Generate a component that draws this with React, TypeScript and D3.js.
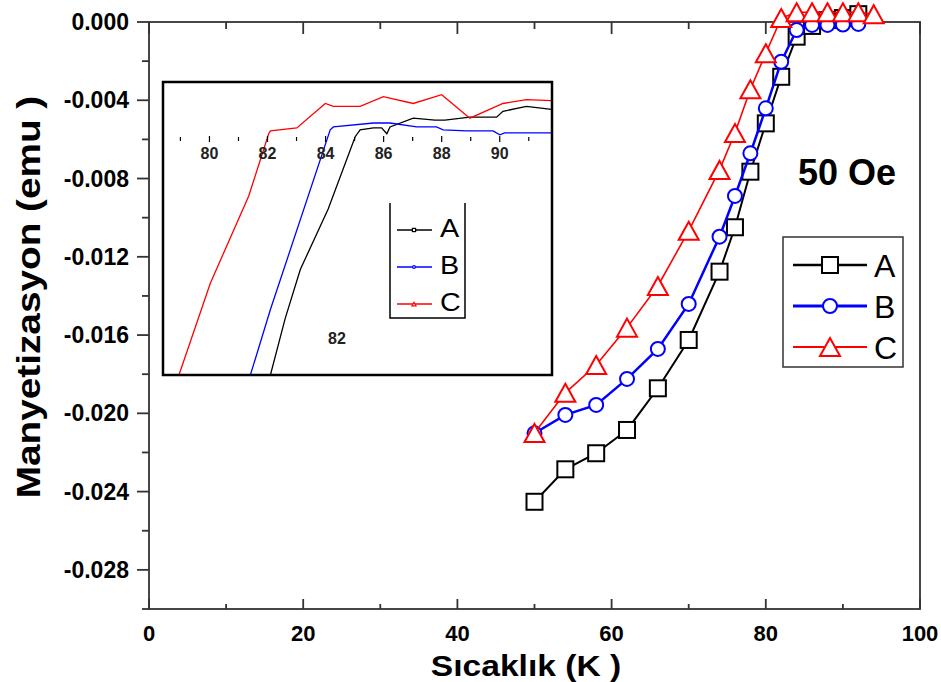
import React from 'react';
import * as d3 from 'd3';

// main chart data (T in K, M in emu)
const tempA = [50, 54, 58, 62, 66, 70, 74, 76, 78, 80, 82, 84, 86, 88, 90, 92];
const magA = [-0.02452, -0.02286, -0.02204, -0.02085, -0.01872, -0.01625, -0.01276, -0.01049, -0.00765, -0.00518, -0.0028, -0.00075, -0.0002, 0.0001, 0.0002, 0.0004];
const tempB = [50, 54, 58, 62, 66, 70, 74, 76, 78, 80, 82, 84, 86, 88, 90, 92];
const magB = [-0.02102, -0.02008, -0.01957, -0.01824, -0.01671, -0.01441, -0.01097, -0.00889, -0.00671, -0.00441, -0.00203, -0.00041, -0.00015, -0.00015, -0.00013, -0.0001];
const tempC = [50, 54, 58, 62, 66, 70, 74, 76, 78, 80, 82, 84, 86, 88, 90, 92, 94];
const magC = [-0.021, -0.01895, -0.01753, -0.01562, -0.01349, -0.01067, -0.00756, -0.00567, -0.00344, -0.0016, 0.0002, 0.0005, 0.0005, 0.0005, 0.0005, 0.0005, 0.0004];

// inset data
const insetTempA = [82.1, 82.61, 83.13, 84.09, 85.02, 85.19, 85.65, 85.93, 86.11, 86.22, 87.02, 87.77, 88.11, 88.97, 89.89, 90.11, 90.92, 91.78];
const insetMagA = [-0.003, -0.00242, -0.00192, -0.0013, -0.00056, -0.00049, -0.00047, -0.00047, -0.00053, -0.00046, -0.00037, -0.00039, -0.00039, -0.00036, -0.00036, -0.0003, -0.00025, -0.00028];
const insetTempB = [81.41, 82.1, 84.16, 84.27, 85.65, 86.22, 87.14, 87.82, 88.05, 88.86, 89.77, 90.0, 90.17, 91.78];
const insetMagB = [-0.003, -0.00233, -0.00049, -0.00046, -0.00042, -0.00042, -0.00046, -0.00046, -0.00049, -0.0005, -0.0005, -0.00054, -0.00052, -0.00052];
const insetTempC = [78.95, 80.03, 81.35, 82.04, 82.1, 83.01, 83.99, 84.27, 85.19, 85.99, 87.02, 88.0, 88.97, 90.11, 90.92, 91.78];
const insetMagC = [-0.003, -0.00206, -0.00117, -0.00053, -0.0005, -0.00047, -0.00022, -0.00025, -0.00025, -0.00015, -0.00022, -0.00013, -0.00037, -0.00022, -0.00018, -0.00019];

const xMajor = [0, 20, 40, 60, 80, 100];
const xMinor = [10, 30, 50, 70, 90];
const yMajor = [0, -0.004, -0.008, -0.012, -0.016, -0.02, -0.024, -0.028];
const yMinor = [-0.002, -0.006, -0.01, -0.014, -0.018, -0.022, -0.026, -0.03];
const insetTicks = [79, 80, 81, 82, 83, 84, 85, 86, 87, 88, 89, 90, 91];
const insetLabels = [80, 82, 84, 86, 88, 90];
const seriesNames = ['A', 'B', 'C'];

const FONT = '"Liberation Sans", Arial, Helvetica, sans-serif';

const x = d3.scaleLinear().domain([0, 100]).range([149, 920]);
const y = d3.scaleLinear().domain([-0.03, 0]).range([609, 22]);
const ix = d3.scaleLinear().domain([78.4, 91.8]).range([163, 552]);
const iy = d3.scaleLinear().domain([-0.003, 0]).range([375, 82]);

const zip = (a: number[], b: number[]) => a.map((v, i) => [v, b[i]] as [number, number]);

const mainLine = d3.line<[number, number]>().x(d => x(d[0])).y(d => y(d[1]));
const insetLine = d3.line<[number, number]>().x(d => ix(d[0])).y(d => iy(d[1]));

type MarkProps = { cx: number; cy: number; s?: number };

const Square = ({ cx, cy, s = 1 }: MarkProps) => (
  <rect x={cx - 8 * s} y={cy - 8 * s} width={16 * s} height={16 * s} fill="#fff" stroke="#000" strokeWidth={2 * Math.max(s, 0.6)} />
);
const Circle = ({ cx, cy, s = 1 }: MarkProps) => (
  <circle cx={cx} cy={cy} r={7 * s} fill="#fff" stroke="#0000ff" strokeWidth={2 * Math.max(s, 0.6)} />
);
const Tri = ({ cx, cy, s = 1 }: MarkProps) => (
  <path d={`M${cx},${cy - 9 * s}L${cx + 10 * s},${cy + 9 * s}L${cx - 10 * s},${cy + 9 * s}Z`} fill="#fff" stroke="#ff0000" strokeWidth={2 * Math.max(s, 0.6)} />
);

const series = [
  { pts: zip(tempA, magA), color: '#000', width: 2, Mark: Square, ipts: zip(insetTempA, insetMagA) },
  { pts: zip(tempB, magB), color: '#0000ff', width: 2.5, Mark: Circle, ipts: zip(insetTempB, insetMagB) },
  { pts: zip(tempC, magC), color: '#ff0000', width: 1.6, Mark: Tri, ipts: zip(insetTempC, insetMagC) },
];

export default function App() {
  const insetAxisY = 138;
  return (
    <svg width={941} height={682} style={{ position: 'absolute', left: 0, top: 0, background: '#fff' }} fontFamily={FONT}>
      <defs>
        <clipPath id="insetClip">
          <rect x={163} y={82} width={389} height={293} />
        </clipPath>
      </defs>
      <rect width={941} height={682} fill="#fff" />

      {/* frame */}
      <rect x={149} y={22} width={771} height={587} fill="none" stroke="#333" strokeWidth={1.8} />

      {/* bottom ticks (inward) and top ticks (inward) */}
      {xMajor.map(t => (
        <g key={'xM' + t}>
          <line x1={x(t)} x2={x(t)} y1={609} y2={599} stroke="#333" strokeWidth={1.8} />
          <line x1={x(t)} x2={x(t)} y1={22} y2={34} stroke="#333" strokeWidth={1.8} />
          <text x={x(t)} y={641} textAnchor="middle" fontSize={22} fontWeight="bold">{t}</text>
        </g>
      ))}
      {xMinor.map(t => (
        <g key={'xm' + t}>
          <line x1={x(t)} x2={x(t)} y1={609} y2={604} stroke="#333" strokeWidth={1.8} />
          <line x1={x(t)} x2={x(t)} y1={22} y2={29} stroke="#333" strokeWidth={1.8} />
        </g>
      ))}

      {/* left ticks (outward) */}
      {yMajor.map(v => (
        <g key={'yM' + v}>
          <line x1={137} x2={149} y1={y(v)} y2={y(v)} stroke="#333" strokeWidth={1.8} />
          <text x={129} y={y(v) + 8} textAnchor="end" fontSize={23} fontWeight="bold">{v.toFixed(3)}</text>
        </g>
      ))}
      {yMinor.map(v => (
        <line key={'ym' + v} x1={142} x2={149} y1={y(v)} y2={y(v)} stroke="#333" strokeWidth={1.8} />
      ))}

      {/* axis titles */}
      <text transform="translate(526,676) scale(1.12,1)" textAnchor="middle" fontSize={30} fontWeight="bold">Sıcaklık (K )</text>
      <text transform="translate(40,297) rotate(-90) scale(1.14,1)" textAnchor="middle" fontSize={34} fontWeight="bold">Manyetizasyon (emu )</text>

      {/* main series */}
      {series.map((s, i) => (
        <g key={'s' + i}>
          <path d={mainLine(s.pts) || ''} fill="none" stroke={s.color} strokeWidth={s.width} />
          {s.pts.map((p, j) => <s.Mark key={j} cx={x(p[0])} cy={y(p[1])} />)}
        </g>
      ))}

      <text x={798} y={185} fontSize={36} fontWeight="bold">50 Oe</text>

      {/* main legend */}
      <rect x={783} y={237} width={120} height={130} fill="#fff" stroke="#333" strokeWidth={1.5} />
      {series.map((s, i) => {
        const ly = 265 + i * 41;
        return (
          <g key={'lg' + i}>
            <line x1={793} x2={867} y1={ly} y2={ly} stroke={s.color} strokeWidth={s.width + 0.5} />
            <s.Mark cx={830} cy={ly} />
            <text x={874} y={ly + 12} fontSize={32}>{seriesNames[i]}</text>
          </g>
        );
      })}

      {/* inset */}
      <rect x={163} y={82} width={389} height={293} fill="#fff" stroke="none" />
      <g clipPath="url(#insetClip)">
        {series.map((s, i) => (
          <path key={'is' + i} d={insetLine(s.ipts) || ''} fill="none" stroke={s.color} strokeWidth={1.3} />
        ))}
      </g>
      {insetTicks.map(t => (
        <line key={'it' + t} x1={ix(t)} x2={ix(t)} y1={insetAxisY + (t % 2 === 0 ? 4 : 3)} y2={insetAxisY - (t % 2 === 0 ? 2 : 1)} stroke="#000" strokeWidth={1.2} />
      ))}
      {insetLabels.map(t => (
        <text key={'il' + t} x={ix(t)} y={insetAxisY + 21} textAnchor="middle" fontSize={16} fontWeight="bold" fill="#222">{t}</text>
      ))}
      <text x={337} y={344} textAnchor="middle" fontSize={16} fontWeight="bold" fill="#222">82</text>
      <rect x={163} y={82} width={389} height={293} fill="none" stroke="#000" strokeWidth={2.5} />

      {/* inset legend */}
      <path d="M390,203V318H465V203" fill="none" stroke="#000" strokeWidth={1.5} />
      {series.map((s, i) => {
        const ly = 230 + i * 37;
        return (
          <g key={'ilg' + i}>
            <line x1={397} x2={432} y1={ly} y2={ly} stroke={s.color} strokeWidth={1.3} />
            <s.Mark cx={414} cy={ly} s={0.2} />
            <text transform={`translate(440,${ly + 7}) scale(1.15,1)`} fontSize={25}>{seriesNames[i]}</text>
          </g>
        );
      })}
    </svg>
  );
}
